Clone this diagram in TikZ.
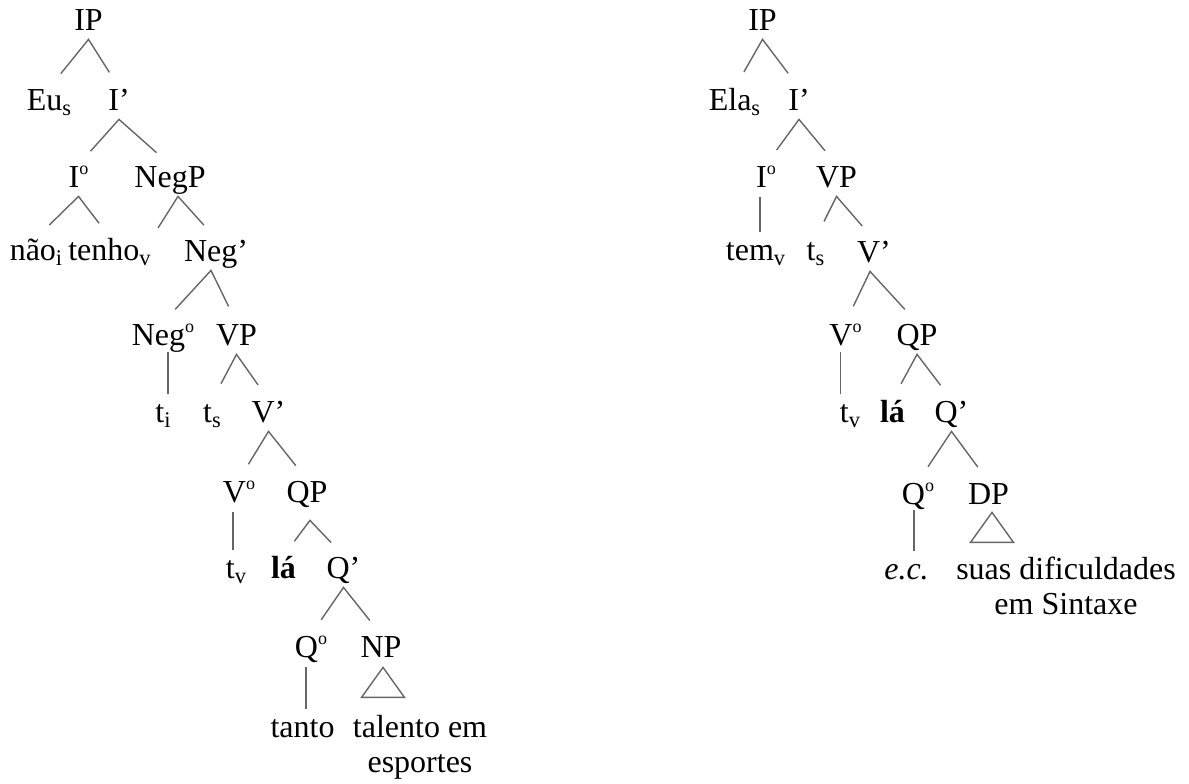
\documentclass[tikz,border=0pt]{standalone}
\usepackage{fontspec}
\setmainfont{Liberation Serif}

% kleines hochgestelltes o
\newcommand{\hochO}{\raisebox{6.3pt}{\fontsize{9pt}{9pt}\selectfont o}}

\begin{document}
\begin{tikzpicture}[x=0.5pt, y=-0.5pt,
	wort/.style={inner sep=0pt, anchor=base, text height=11pt, text depth=0pt, font=\fontsize{16pt}{17.5pt}\selectfont},
	mehrzeilig/.style={wort, anchor=north, align=center, text height={}, text depth={}},
	ast/.style={draw=black!60, line width=0.7pt, line join=miter, shorten <=9pt, shorten >=9pt},
	stamm/.style={draw=black!60, line width=0.7pt, shorten >=3pt},
	dach/.style={draw=black!60, line width=0.7pt, line join=miter}]
	
	\useasboundingbox (0,0) rectangle (1189,783);
	
	% Linker Baum: Knoten
	\node[wort] (ipL) at (88.5,30) {IP};
	\node[wort] (eusL) at (49.5,110) {Eu\textsubscript{s}};
	\node[wort] (ibarL) at (119,110) {I’};
	\node[wort] (ioL) at (78.5,187) {I\hochO};
	\node[wort] (negpL) at (170,187) {NegP};
	\node[wort] (naoL) at (36.5,260) {não\textsubscript{i}};
	\node[wort] (tenhoL) at (110,260) {tenho\textsubscript{v}};
	\node[wort] (negbarL) at (216,261) {Neg’};
	\node[wort] (negoL) at (163,345) {Neg\hochO};
	\node[wort] (vpL) at (236.5,345) {VP};
	\node[wort] (tiL) at (163.5,422) {t\textsubscript{i}};
	\node[wort] (tsL) at (212.5,422) {t\textsubscript{s}};
	\node[wort] (vbarL) at (268.5,422) {V’};
	\node[wort] (voL) at (239,502) {V\hochO};
	\node[wort] (qpL) at (307,502) {QP};
	\node[wort] (tvL) at (236.5,578) {t\textsubscript{v}};
	\node[wort] (laL) at (283.5,578) {\textbf{lá}};
	\node[wort] (qbarL) at (343.5,578) {Q’};
	\node[wort] (qoL) at (311,657) {Q\hochO};
	\node[wort] (npL) at (381,657) {NP};
	\node[wort] (tantoL) at (302.5,737) {tanto};
	\node[mehrzeilig] (talentoL) at (420,715) {talento em\\esportes};
	\coordinate (negspecL) at (158,228);
	
	% Linker Baum: Äste
	\draw[ast] (eusL.north) -- ([yshift=-4.5pt]ipL.south) -- (ibarL.north);
	\draw[ast] (ioL.north) -- ([yshift=-4.5pt]ibarL.south) -- (negpL.north);
	\draw[ast] (naoL.north) -- ([yshift=-4.5pt]ioL.south) -- (tenhoL.north);
	\draw[ast, shorten <=0pt] (negspecL) -- ([xshift=4pt,yshift=-4.5pt]negpL.south) -- (negbarL.north);
	\draw[ast] (negoL.north) -- ([xshift=-2.5pt,yshift=-4.5pt]negbarL.south) -- (vpL.north);
	\draw[stamm] ([xshift=2.5pt,yshift=-3.5pt]negoL.south) -- ([xshift=2.5pt]negoL.south |- tiL.north);
	\draw[ast] (tsL.north) -- ([yshift=-4.5pt]vpL.south) -- (vbarL.north);
	\draw[ast] (voL.north) -- ([yshift=-4.5pt]vbarL.south) -- (qpL.north);
	\draw[stamm] ([xshift=-3pt,yshift=-5pt]voL.south) -- ([xshift=-3pt]voL.south |- tvL.north);
	\draw[ast] (laL.north) -- ([xshift=1.5pt,yshift=-9pt]qpL.south) -- (qbarL.north);
	\draw[ast] (qoL.north) -- ([yshift=-4.5pt]qbarL.south) -- (npL.north);
	\draw[stamm] ([xshift=-2.5pt,yshift=-5pt]qoL.south) -- ([xshift=-2.5pt]qoL.south |- tantoL.north);
	
	% Dreieck über "talento em esportes"
	\draw[dach] ([xshift=1pt,yshift=-5pt]npL.south) -- ++(-10.75pt,-15pt) -- ++(21.5pt,0pt) -- cycle;
	
	% Rechter Baum: Knoten
	\node[wort] (ipR) at (762.5,30) {IP};
	\node[wort] (elaR) at (735,110) {Ela\textsubscript{s}};
	\node[wort] (ibarR) at (799,110) {I’};
	\node[wort] (ioR) at (766,187) {I\hochO};
	\node[wort] (vpR) at (836.5,187) {VP};
	\node[wort] (temR) at (756,260) {tem\textsubscript{v}};
	\node[wort] (tsR) at (816,260) {t\textsubscript{s}};
	\node[wort] (vbarR) at (874,262) {V’};
	\node[wort] (voR) at (845.5,345) {V\hochO};
	\node[wort] (qpR) at (917,345) {QP};
	\node[wort] (tvR) at (850.5,422) {t\textsubscript{v}};
	\node[wort] (laR) at (892.5,422) {\textbf{lá}};
	\node[wort] (qbarR) at (951.5,422) {Q’};
	\node[wort] (qoR) at (918,504) {Q\hochO};
	\node[wort] (dpR) at (988.5,504) {DP};
	\node[wort] (ecR) at (906.5,579) {\textit{e.c.}};
	\node[mehrzeilig] (suasR) at (1066,557) {suas dificuldades\\em Sintaxe};
	
	% Rechter Baum: Äste
	\draw[ast] (elaR.north) -- ([yshift=-4.5pt]ipR.south) -- (ibarR.north);
	\draw[ast] (ioR.north) -- ([yshift=-4.5pt]ibarR.south) -- (vpR.north);
	\draw[stamm] ([xshift=-3pt,yshift=-5pt]ioR.south) -- ([xshift=-3pt]ioR.south |- temR.north);
	\draw[ast] (tsR.north) -- ([yshift=-4.5pt]vpR.south) -- (vbarR.north);
	\draw[ast] (voR.north) -- ([xshift=-2pt,yshift=-4.5pt]vbarR.south) -- (qpR.north);
	\draw[stamm] ([xshift=-2.5pt,yshift=-3.5pt]voR.south) -- ([xshift=-2.5pt]voR.south |- tvR.north);
	\draw[ast] (laR.north) -- ([yshift=-4.5pt]qpR.south) -- (qbarR.north);
	\draw[ast] (qoR.north) -- ([yshift=-4.5pt]qbarR.south) -- (dpR.north);
	\draw[stamm] ([xshift=-2pt,yshift=-3pt]qoR.south) -- ([xshift=-2pt]qoR.south |- ecR.north);
	
	% Dreieck über "suas dificuldades em Sintaxe"
	\draw[dach] ([xshift=1.75pt,yshift=-4pt]dpR.south) -- ++(-10.75pt,-15pt) -- ++(21.5pt,0pt) -- cycle;
	
\end{tikzpicture}
\end{document}
